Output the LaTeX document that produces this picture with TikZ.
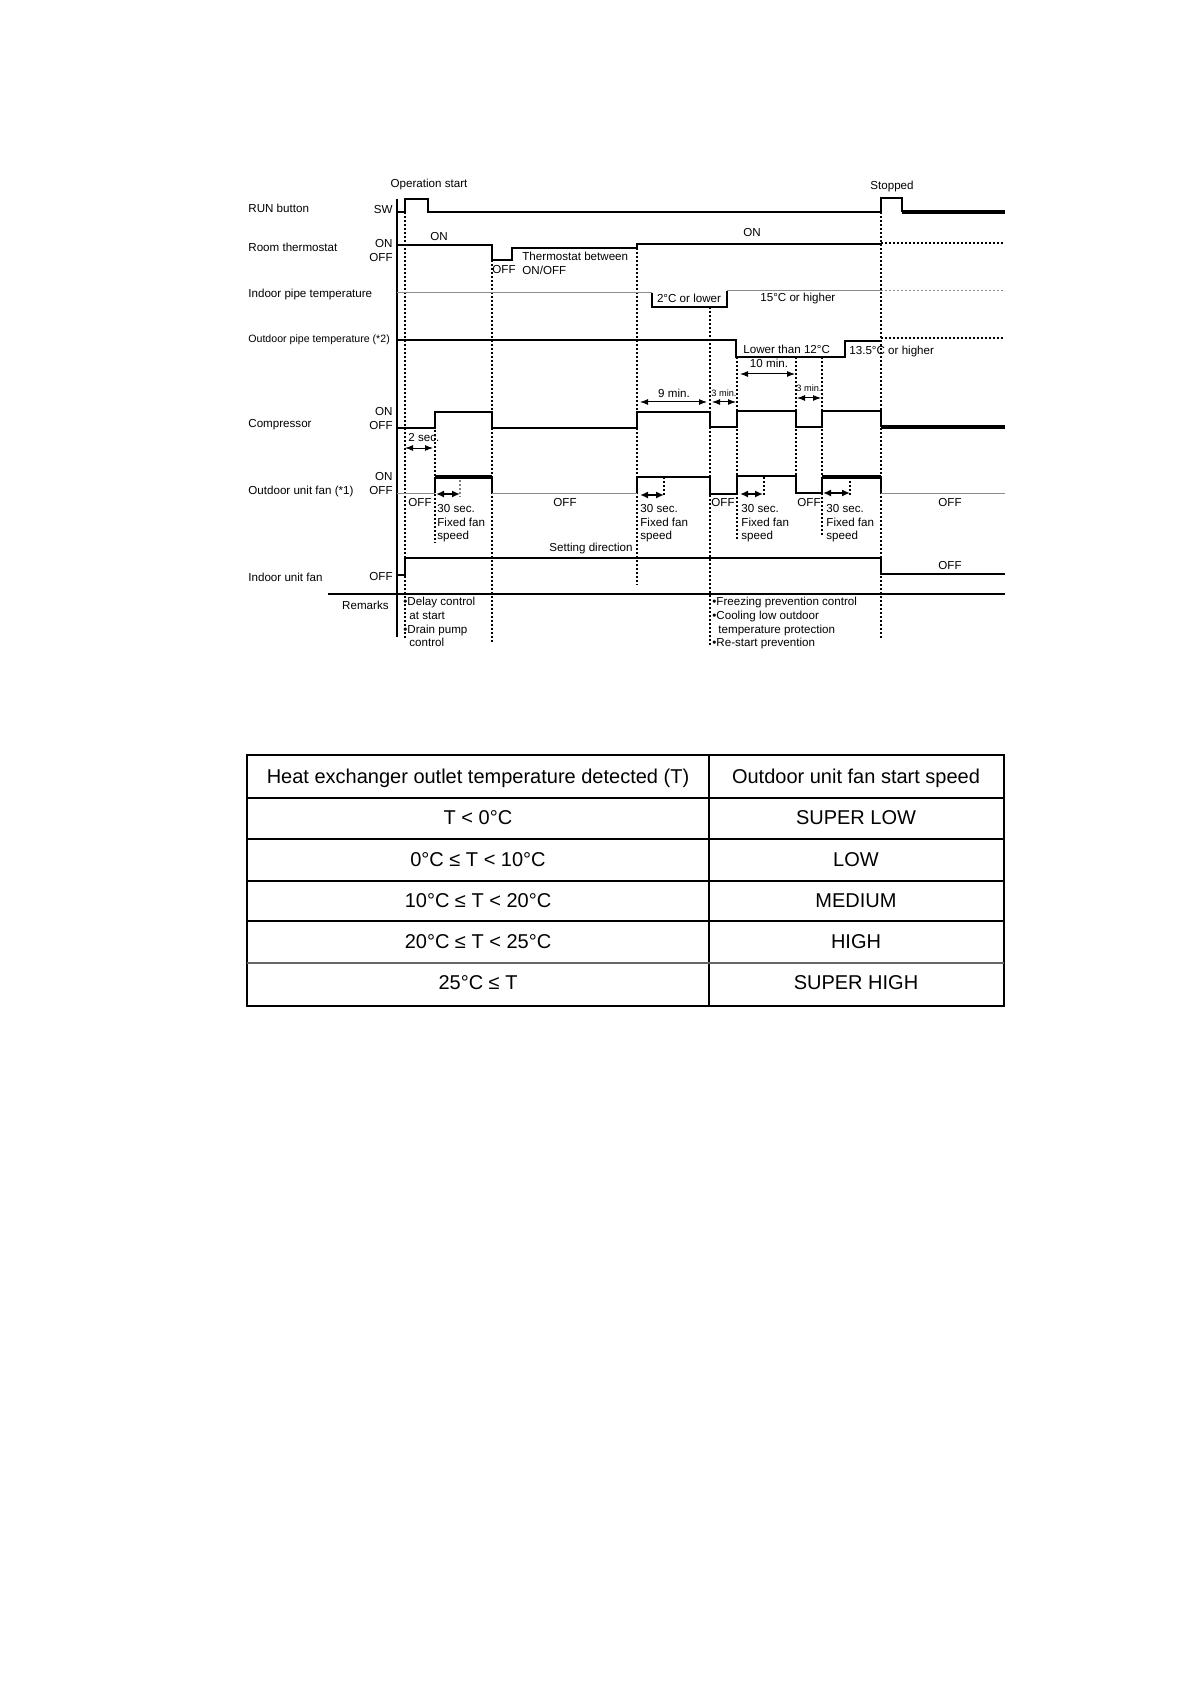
\documentclass[tikz,border=0pt]{standalone}
\usepackage{fontspec}
\setmainfont{Liberation Sans}
\usetikzlibrary{arrows.meta,positioning,calc}

\begin{document}
\begin{tikzpicture}[
    x=0.5pt, y=-0.5pt,
    lab/.style={font=\fontsize{5.8}{6.8}\selectfont, inner sep=0pt, anchor=west},
    lvl/.style={font=\fontsize{5.8}{6.8}\selectfont, inner sep=0pt, anchor=east},
    note/.style={font=\fontsize{5.8}{6.8}\selectfont, inner sep=0pt, anchor=north west, align=left},
    wave/.style={line width=1pt},
    faint/.style={line width=0.5pt, draw=black!45},
    heavy/.style={line width=1.8pt},
    guide/.style={line width=0.8pt, dash pattern=on 1pt off 1pt},
    dim/.style={{Latex[length=4pt,width=3pt]}-{Latex[length=4pt,width=3pt]}, line width=0.5pt},
    fixarr/.style={{Latex[length=4pt,width=3.5pt]}-{Latex[length=4pt,width=3.5pt]}, line width=1.2pt},
    cell/.style={font=\fontsize{10}{11.5}\selectfont, inner sep=0pt}
]
\useasboundingbox (0,0) rectangle (1190,1684);

% signal names
\node[lab] (run) at (248,208) {RUN button};
\node[lab] (thermo) at (248,247) {Room thermostat};
\node[lab] (inpipe) at (248,295) {Indoor pipe temperature};
\node[lab, font=\fontsize{5.3}{6.3}\selectfont] (outpipe) at (248,340) {Outdoor pipe temperature (*2)};
\node[lab] (comp) at (248,425) {Compressor};
\node[lab] (outfan) at (248,491) {Outdoor unit fan (*1)};
\node[lab] (infan) at (248,577) {Indoor unit fan};
\node[lvl] (remarks) at (389,605) {Remarks};

% levels
\node[lvl] (sw) at (393,210) {SW};
\node[lvl] (thon) at (393,244) {ON};
\node[lvl] (thoff) at (393,258) {OFF};
\node[lvl] (cpon) at (393,412) {ON};
\node[lvl] (cpoff) at (393,426) {OFF};
\node[lvl] (fnon) at (393,477) {ON};
\node[lvl] (fnoff) at (393,491) {OFF};
\node[lvl] (ifoff) at (393,577) {OFF};

% axis and remarks rule
\draw[wave] (397,199) -- (397,637);
\draw[wave] (328,594) -- (1005,594);

% event guides
\draw[guide] (405,212) -- (405,640);
\draw[guide] (492,260) -- (492,643);
\draw[guide] (637,244) -- (637,585);
\draw[guide] (710,307) -- (710,645);
\draw[guide] (737,357) -- (737,540);
\draw[guide] (796,357) -- (796,493);
\draw[guide] (822,357) -- (822,537);
\draw[guide] (881,212) -- (881,638);
\draw[guide] (435,430) -- (435,543);
\draw[guide, draw=black!50] (460,480) -- (460,497);
\draw[guide] (664,477) -- (664,497);
\draw[guide] (764,477) -- (764,497);
\draw[guide] (850,477) -- (850,497);

% RUN button
\draw[wave] (397,212) -- (405,212) -- (405,199) -- (428,199) -- (428,212) -- (881,212)
    -- (881,198) -- (902,198) -- (902,212);
\draw[heavy] (902,212) -- (1005,212);
\node (opstart) at (429,185) [font=\fontsize{5.8}{6.8}\selectfont, inner sep=0pt] {Operation start};
\node (stopped) at (892,187) [font=\fontsize{5.8}{6.8}\selectfont, inner sep=0pt] {Stopped};

% room thermostat
\draw[wave] (397,245) -- (492,245) -- (492,260) -- (512,260) -- (512,248) -- (637,248)
    -- (637,244) -- (881,244);
\draw[guide] (881,243) -- (1005,243);
\node[lab] (thon1) at (430,237) {ON};
\node[lab] (thoff1) at (492,270) {OFF};
\node[note] (between) at (522,252) {Thermostat between\\ON/OFF};
\node[lab] (thon2) at (743,233) {ON};

% indoor pipe temperature
\draw[faint] (397,293) -- (652,293);
\draw[wave] (652,293) -- (652,307) -- (727,307) -- (727,291);
\draw[faint] (727,291) -- (881,291);
\draw[faint, dash pattern=on 1pt off 1pt] (881,291) -- (1005,291);
\node (cold) at (689,298) [font=\fontsize{5.8}{6.8}\selectfont, inner sep=0pt] {2°C or lower};
\node[lab] (warm) at (760,299) {15°C or higher};

% outdoor pipe temperature
\draw[wave] (397,340) -- (736,340) -- (736,357) -- (845,357) -- (845,341) -- (881,341);
\draw[guide] (881,338) -- (1005,338);
\node[lab] (low12) at (743,349) {Lower than 12°C};
\node[lab] (high135) at (849,352) {13.5°C or higher};

% compressor
\draw[wave] (397,428) -- (435,428) -- (435,412) -- (492,412) -- (492,428) -- (637,428)
    -- (637,412) -- (710,412) -- (710,427) -- (737,427) -- (737,411) -- (796,411)
    -- (796,427) -- (822,427) -- (822,411) -- (881,411) -- (881,427);
\draw[heavy] (881,427) -- (1005,427);

% outdoor unit fan
\draw[faint] (397,493) -- (435,493);
\draw[wave] (435,493) -- (435,477);
\draw[heavy] (435,477) -- (492,477);
\draw[wave] (492,477) -- (492,493);
\draw[faint] (492,493) -- (637,493);
\draw[wave] (637,493) -- (637,477) -- (710,477) -- (710,494) -- (737,494) -- (737,476)
    -- (796,476) -- (796,493) -- (822,493) -- (822,477);
\draw[heavy] (822,477) -- (881,477);
\draw[wave] (881,477) -- (881,493);
\draw[faint] (881,493) -- (1005,493);

% indoor unit fan
\draw[wave] (397,575) -- (405,575) -- (405,558) -- (881,558) -- (881,574) -- (1005,574);
\node (ifoff2) at (950,566) [font=\fontsize{5.8}{6.8}\selectfont, inner sep=0pt] {OFF};

% timings
\draw[dim] (405,448) -- (433,448);
\node[lab] (sec2) at (408,438) {2 sec.};
\draw[dim] (640,402) -- (707,402);
\node (min9) at (674,393) [font=\fontsize{5.8}{6.8}\selectfont, inner sep=0pt] {9 min.};
\draw[dim] (712,402) -- (736,402);
\node (min3a) at (724,393) [font=\fontsize{4.6}{5}\selectfont, inner sep=0pt] {3 min.};
\draw[dim] (740,374) -- (795,374);
\node (min10) at (769,363) [font=\fontsize{5.8}{6.8}\selectfont, inner sep=0pt] {10 min.};
\draw[dim] (797,398) -- (821,398);
\node (min3b) at (809,388) [font=\fontsize{4.6}{5}\selectfont, inner sep=0pt] {3 min.};

% fixed fan speed intervals
\draw[fixarr] (436,494) -- (460,494);
\draw[fixarr] (640,495) -- (664,495);
\draw[fixarr] (740,494) -- (763,494);
\draw[fixarr] (823,493) -- (850,493);
\node[note] (fix1) at (437,504) {30 sec.\\Fixed fan\\speed};
\node[note] (fix2) at (640,504) {30 sec.\\Fixed fan\\speed};
\node[note] (fix3) at (741,504) {30 sec.\\Fixed fan\\speed};
\node[note] (fix4) at (826,504) {30 sec.\\Fixed fan\\speed};
\node (fnoff1) at (420,503) [font=\fontsize{5.8}{6.8}\selectfont, inner sep=0pt] {OFF};
\node (fnoff2) at (565,503) [font=\fontsize{5.8}{6.8}\selectfont, inner sep=0pt] {OFF};
\node (fnoff3) at (723,503) [font=\fontsize{5.8}{6.8}\selectfont, inner sep=0pt] {OFF};
\node (fnoff4) at (809,503) [font=\fontsize{5.8}{6.8}\selectfont, inner sep=0pt] {OFF};
\node (fnoff5) at (950,503) [font=\fontsize{5.8}{6.8}\selectfont, inner sep=0pt] {OFF};
\node[lvl] (setdir) at (633,548) {Setting direction};

% remarks
\node[note] (rem1) at (403,597) {•Delay control\\\hspace*{3pt}at start\\•Drain pump\\\hspace*{3pt}control};
\node[note] (rem2) at (712,597) {•Freezing prevention control\\•Cooling low outdoor\\\hspace*{3pt}temperature protection\\•Re-start prevention};

% fan start speed table
\draw[line width=1.2pt] (247,755) rectangle (1004,1006);
\draw[line width=1.2pt] (709,755) -- (709,1006);
\draw[line width=1pt] (247,798) -- (1004,798);
\draw[line width=0.8pt] (247,839) -- (1004,839);
\draw[line width=0.8pt] (247,881) -- (1004,881);
\draw[line width=0.8pt] (247,921) -- (1004,921);
\draw[line width=0.8pt, draw=black!60] (247,963) -- (1004,963);
\node[cell] (hdrT) at (478,778) {Heat exchanger outlet temperature detected (T)};
\node[cell] (hdrS) at (856,778) {Outdoor unit fan start speed};
\node[cell] (t1) at (478,818) {T < 0°C};
\node[cell] (s1) at (856,818) {SUPER LOW};
\node[cell] (t2) at (478,860) {0°C ≤ T < 10°C};
\node[cell] (s2) at (856,860) {LOW};
\node[cell] (t3) at (478,901) {10°C ≤ T < 20°C};
\node[cell] (s3) at (856,901) {MEDIUM};
\node[cell] (t4) at (478,942) {20°C ≤ T < 25°C};
\node[cell] (s4) at (856,942) {HIGH};
\node[cell] (t5) at (478,983) {25°C ≤ T};
\node[cell] (s5) at (856,983) {SUPER HIGH};
\end{tikzpicture}
\end{document}
